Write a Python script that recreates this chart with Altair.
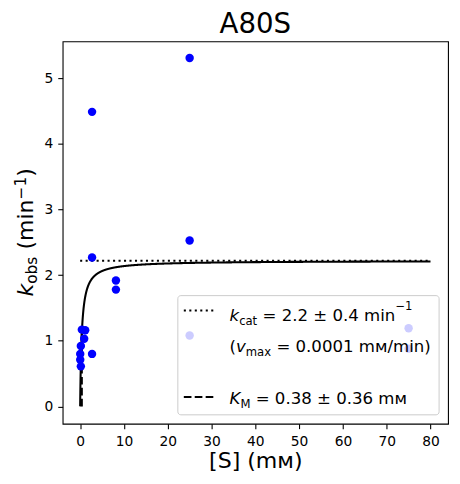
import altair as alt
import pandas as pd

# ---------------- data ----------------
TITLE = "A80S"
S_MM = [0.39, 1.15, 0.92, 0.16, 0.02, 0.02, 0.16, 2.72, 2.72, 2.72, 8.17, 8.17, 25, 25, 25, 75, 75]
KOBS = [1.17, 1.16, 1.03, 0.92, 0.80, 0.71, 0.61, 4.49, 2.27, 0.80, 1.92, 1.78, 5.31, 2.53, 1.08, 1.19, 0.88]
KCAT = 2.22
KM = 0.38
S_MAX = 80
X_TICKS = [0, 10, 20, 30, 40, 50, 60, 70, 80]
Y_TICKS = [0, 1, 2, 3, 4, 5]
X_DOMAIN = [-4, 84]
Y_DOMAIN = [-0.265, 5.565]

FONT = "DejaVu Sans"
W, H = 388, 385

pts = pd.DataFrame({"S": S_MM, "kobs": KOBS})
kcat_line = pd.DataFrame({"S": [0, S_MAX], "kobs": [KCAT, KCAT]})
km_line = pd.DataFrame({"S": [KM], "y0": [0.0], "y1": [KCAT / 2]})

xs = alt.Scale(domain=X_DOMAIN, nice=False, zero=False)
ys = alt.Scale(domain=Y_DOMAIN, nice=False, zero=False)

x_axis = alt.Axis(values=X_TICKS, title="[S] (mᴍ)", titleFontSize=22.2, titleFont=FONT,
                  titleFontWeight="normal", titleColor="black", titlePadding=1,
                  labelPadding=6, format="d")
y_axis = alt.Axis(values=Y_TICKS, title=None, labelPadding=5, format="d")

curve = alt.Chart(alt.sequence(0, 80.001, 0.02, as_="S")).transform_calculate(
    kobs=f"{KCAT} * datum.S / ({KM} + datum.S)"
).mark_line(color="black", strokeWidth=2.08).encode(
    x=alt.X("S:Q", scale=xs, axis=x_axis),
    y=alt.Y("kobs:Q", scale=ys, axis=y_axis),
)

dotted = alt.Chart(kcat_line).mark_line(color="black", strokeWidth=2.08, strokeDash=[2.08, 3.44]).encode(
    x=alt.X("S:Q", scale=xs), y=alt.Y("kobs:Q", scale=ys)
)

dashed = alt.Chart(km_line).mark_rule(color="black", strokeWidth=2.08, strokeDash=[7.7, 3.3]).encode(
    x=alt.X("S:Q", scale=xs), y=alt.Y("y0:Q", scale=ys), y2="y1:Q"
)

points = alt.Chart(pts).mark_circle(color="#0000ff", opacity=1, size=72).encode(
    x=alt.X("S:Q", scale=xs), y=alt.Y("kobs:Q", scale=ys)
)

one = pd.DataFrame({"a": [0]})

legend_box = alt.Chart(one).mark_rect(
    cornerRadius=3, fill="white", fillOpacity=0.8, stroke="#cccccc", strokeWidth=1
).encode(x=alt.value(116), x2=alt.value(379), y=alt.value(256), y2=alt.value(376))

leg_dot = alt.Chart(one).mark_rule(color="black", strokeWidth=2.08, strokeDash=[2.08, 3.44]).encode(
    x=alt.value(122), x2=alt.value(155), y=alt.value(271)
)
leg_dash = alt.Chart(one).mark_rule(color="black", strokeWidth=2.08, strokeDash=[7.7, 3.3]).encode(
    x=alt.value(122), x2=alt.value(155), y=alt.value(358)
)

title_mark = alt.Chart(one).mark_text(
    text=TITLE, font=FONT, fontSize=27.8, color="black", align="center", baseline="alphabetic"
).encode(x=alt.value(W / 2), y=alt.value(-8))

# approximate DejaVu Sans advance widths (units per em 2048)
ADV = {' ': 651, '(': 799, ')': 799, '.': 651, '/': 690, '=': 1716, '±': 1716, '−': 1716,
       'a': 1255, 'b': 1300, 'c': 1126, 'i': 569, 'm': 1995, 'n': 1298, 'o': 1253, 's': 1067,
       't': 803, 'x': 1212, 'M': 1767, 'K': 1343, 'k': 1188, 'v': 1212, 'ᴍ': 1450}
for d in "0123456789":
    ADV[d] = 1303


def tw(s, size):
    return sum(ADV.get(c, 1250) for c in s) / 2048 * size


def text_run(parts, x0, y0, angle=0):
    layers = []
    cum = 0.0
    for txt, size, italic, shift in parts:
        lead = len(txt) - len(txt.lstrip(" "))
        core = txt.strip(" ")
        start = cum + tw(" " * lead, size)
        kw = dict(text=core, font=FONT, fontSize=size, color="black", align="left",
                  baseline="alphabetic")
        if italic:
            kw["fontStyle"] = "italic"
        if angle:
            kw["angle"] = angle
            x, y = x0 + shift, y0 - start
        else:
            x, y = x0 + start, y0 + shift
        layers.append(alt.Chart(one).mark_text(**kw).encode(x=alt.value(x), y=alt.value(y)))
        cum += tw(txt, size)
    return layers


FS, SS = 16.7, 11.7
leg_text = []
leg_text += text_run([("k", FS, True, 0), ("cat", SS, False, 4),
                      (" = 2.2 ± 0.4 min", FS, False, 0), ("−1", SS, False, -12)], 168, 282)
leg_text += text_run([("(", FS, False, 0), ("v", FS, True, 0), ("max", SS, False, 4),
                      (" = 0.0001 mᴍ/min)", FS, False, 0)], 168, 313)
leg_text += text_run([("K", FS, True, 0), ("M", SS, False, 4),
                      (" = 0.38 ± 0.36 mᴍ", FS, False, 0)], 168, 365)

LS, LSS = 22.2, 15.5
ylab = text_run([("k", LS, True, 0), ("obs", LSS, False, 4.5), (" (min", LS, False, 0),
                 ("−1", LSS, False, -7), (")", LS, False, 0)], -30, 257, angle=270)

chart = alt.layer(curve, dotted, dashed, points, legend_box, leg_dot, leg_dash, title_mark,
                  *leg_text, *ylab).properties(
    width=W, height=H,
    autosize="none",
    padding={"left": 55, "top": 32, "right": 4, "bottom": 49},
).configure_view(stroke="black", strokeWidth=1.1).configure_axis(
    grid=False, domain=False, labelFont=FONT, labelFontSize=13.9, labelColor="black",
    tickColor="black", tickWidth=1.1, tickSize=4.9,
)

chart.save("out.html", embed_options={"renderer": "svg", "actions": False})
